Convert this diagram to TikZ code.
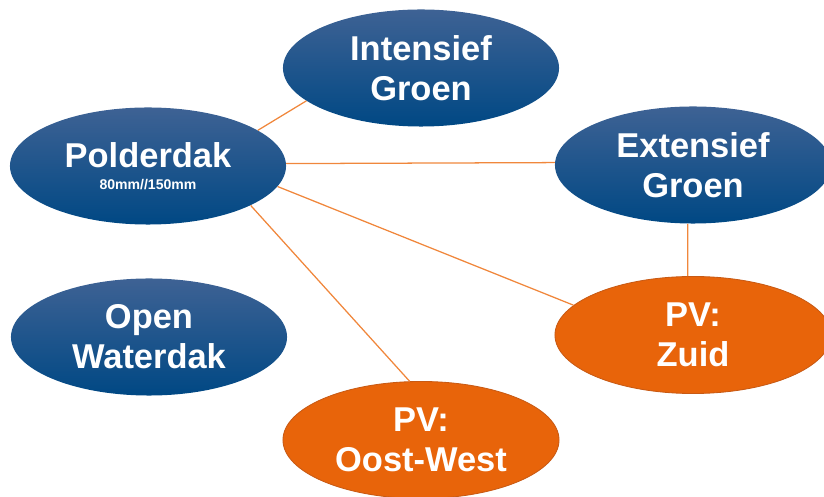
\documentclass[tikz,border=0pt]{standalone}
\usepackage{fontspec}
\setmainfont{Liberation Sans}
\usetikzlibrary{shapes.geometric}

\definecolor{blueTop}{RGB}{62,98,148}
\definecolor{blueBot}{RGB}{0,72,132}
\definecolor{pvOrange}{RGB}{232,100,10}
\definecolor{pvBorder}{RGB}{200,90,20}
\definecolor{linkOrange}{RGB}{240,135,60}
\newcommand{\subfont}{\fontsize{10}{11}\selectfont\bfseries}

\begin{document}
\begin{tikzpicture}[
    x=0.025cm, y=-0.025cm,
    roof/.style={ellipse, minimum width=6.9cm, minimum height=2.925cm,
                 inner sep=0pt, text=white, align=center,
                 font=\fontsize{24.5}{28.5}\selectfont\bfseries},
    roofgreen/.style={roof, top color=blueTop, bottom color=blueBot, draw=none},
    roofpv/.style={roof, fill=pvOrange, draw=pvBorder, line width=0.6pt},
    link/.style={draw=linkOrange, line width=0.9pt}
]
\useasboundingbox (0,0) rectangle (824,497);
\clip (0,0) rectangle (824,497);

\node[roofgreen] (pd) at (148,166) {Polderdak\\[-13pt]{\subfont 80mm//150mm}};
\node[roofgreen] (ig) at (421,68)  {Intensief\\Groen};
\node[roofgreen] (eg) at (693,165) {Extensief\\Groen};
\node[roofgreen] (ow) at (149,337) {Open\\Waterdak};
\node[roofpv]    (zd) at (693,335) {PV:\\Zuid};
\node[roofpv]    (oo) at (421,440) {PV:\\Oost-West};

% links from Polderdak
\draw[link] (pd.18) -- (ig.196);
\draw[link] (pd.1) -- (eg.179);
\draw[link] (pd.-9) -- (zd.166);
\draw[link] (pd.-21) -- (oo.101);
\draw[link] (eg.-95) -- (zd.95);

\end{tikzpicture}
\end{document}
